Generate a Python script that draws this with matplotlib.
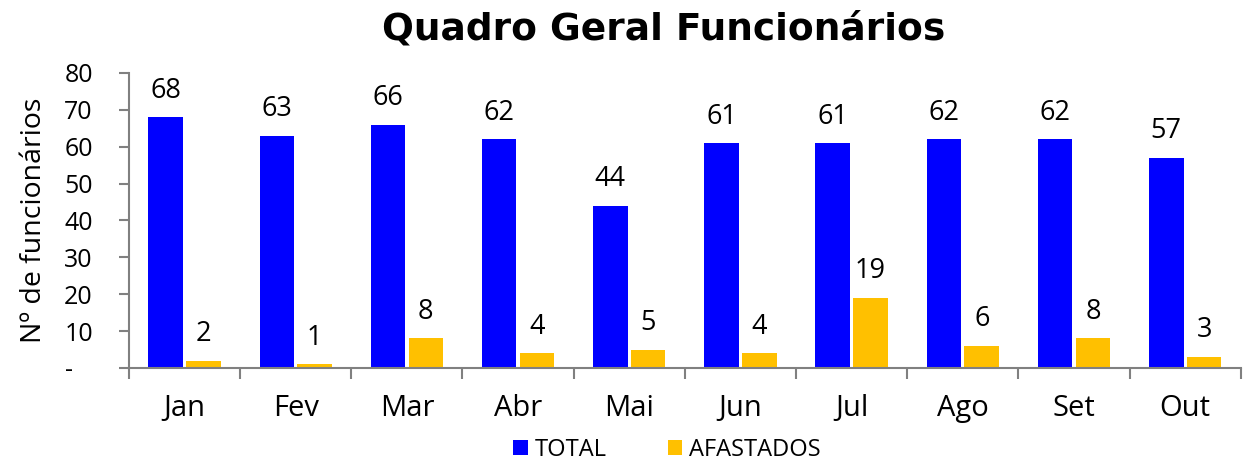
import matplotlib
matplotlib.use("Agg")
import matplotlib.pyplot as plt
import numpy as np
from matplotlib.ticker import FixedLocator, FixedFormatter

months = ["Jan", "Fev", "Mar", "Abr", "Mai", "Jun", "Jul", "Ago", "Set", "Out"]
total = [68, 63, 66, 62, 44, 61, 61, 62, 62, 57]
afastados = [2, 1, 8, 4, 5, 4, 19, 6, 8, 3]
yticks = [0, 10, 20, 30, 40, 50, 60, 70, 80]
ytick_labels = ["-   ", "10", "20", "30", "40", "50", "60", "70", "80"]

plt.rcParams['font.family'] = ['Open Sans', 'DejaVu Sans']

fig = plt.figure(figsize=(12.47, 4.67), dpi=100)
ax = fig.add_axes([0.1034, 0.212, 0.8916, 0.6317])

x = np.arange(len(months))
w = 0.31
off = 0.17
b1 = ax.bar(x - off, total, w, color="#0000FF", label="TOTAL")
b2 = ax.bar(x + off, afastados, w, color="#FFC000", label="AFASTADOS")

for bars, vals in ((b1, total), (b2, afastados)):
    for r, v in zip(bars, vals):
        ax.annotate(str(v), (r.get_x() + r.get_width() / 2, v),
                    xytext=(0, 9), textcoords="offset points",
                    ha="center", va="bottom", fontsize=19.5, color="#000000")

ax.set_xlim(-0.5, len(months) - 0.5)
ax.set_ylim(0, 80)
ax.yaxis.set_major_locator(FixedLocator(yticks))
ax.yaxis.set_major_formatter(FixedFormatter(ytick_labels))
ax.set_xticks(x)
ax.set_xticklabels(months)
ax.set_xticks(np.arange(-0.5, len(months)), minor=True)
ax.tick_params(axis="x", which="major", length=0, labelsize=21, pad=19)
ax.tick_params(axis="x", which="minor", length=8, color="#808080", width=1.5)
ax.tick_params(axis="y", which="major", length=7, color="#808080", width=1.5,
               labelsize=18, pad=19)

for s in ("top", "right"):
    ax.spines[s].set_visible(False)
for s in ("left", "bottom"):
    ax.spines[s].set_color("#808080")
    ax.spines[s].set_linewidth(1.5)

ax.set_ylabel("Nº de funcionários", fontsize=20.5, labelpad=12)

fig.suptitle("Quadro Geral Funcionários", fontsize=27, fontweight="bold",
             family="DejaVu Sans", x=0.532, y=0.975)

fig.legend(handles=[b1, b2], loc="lower center", ncol=2, frameon=False,
           fontsize=17, bbox_to_anchor=(0.535, -0.035), handlelength=0.6,
           handleheight=0.6, columnspacing=2.6, handletextpad=0.3)

fig.savefig("out.png", dpi=100)
